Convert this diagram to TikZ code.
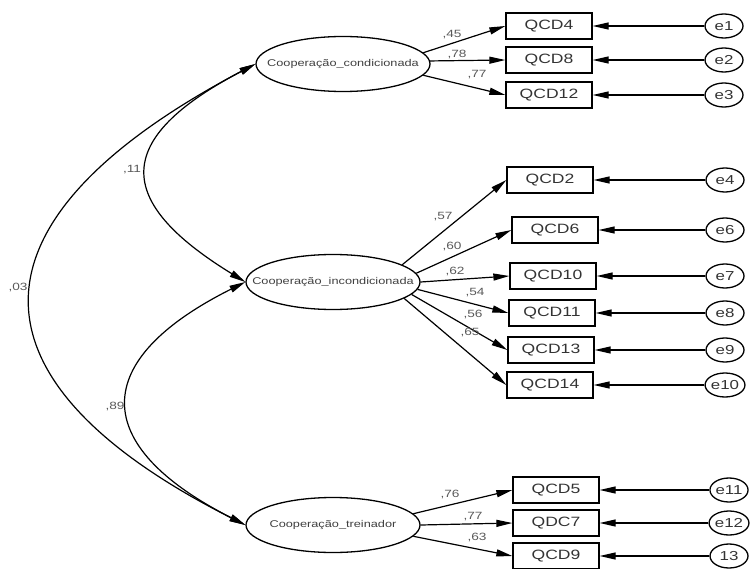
\documentclass[tikz,border=0pt]{standalone}
\usepackage{fontspec}
\setmainfont{Liberation Sans}[FakeStretch=1.3]
\usepackage{tikz}
\usetikzlibrary{shapes.geometric,arrows.meta}

\newcommand{\lvname}[1]{\makebox[0pt]{#1}}

\begin{document}
\begin{tikzpicture}[
    x=1pt, y=-1pt,
    latent/.style={ellipse, draw, line width=1.3pt, minimum width=174pt, minimum height=55pt, inner sep=0pt, text=black!75, font=\fontsize{9.8}{10}\selectfont},
    item/.style={rectangle, draw, line width=1.3pt, minimum width=86pt, minimum height=26pt, inner sep=0pt, text=black!80, font=\fontsize{13.5}{14}\selectfont},
    err/.style={ellipse, draw, line width=1.3pt, minimum width=38pt, minimum height=24pt, inner sep=0pt, text=black!80, font=\fontsize{13}{14}\selectfont},
    weight/.style={inner sep=0pt, text=black!65, font=\fontsize{10.5}{11}\selectfont},
    arrow/.style={-{Triangle[length=16pt,width=7pt]}, line width=1.2pt},
    cov/.style={{Triangle[length=16pt,width=7pt]}-{Triangle[length=16pt,width=7pt]}, line width=1.2pt}
]
    \useasboundingbox (0,0) rectangle (751,569);

    % factors
    \node[latent] (condic) at (343,64) {\lvname{Cooperação\_condicionada}};
    \node[latent] (incond) at (333,282) {\lvname{Cooperação\_incondicionada}};
    \node[latent] (treina) at (333,525) {\lvname{Cooperação\_treinador}};

    % items
    \node[item] (qcd4) at (549,26) {QCD4};
    \node[item] (qcd8) at (549,60) {QCD8};
    \node[item] (qcd12) at (549,95) {QCD12};
    \node[item] (qcd2) at (550,180) {QCD2};
    \node[item] (qcd6) at (555,230) {QCD6};
    \node[item] (qcd10) at (553,276) {QCD10};
    \node[item] (qcd11) at (552,313) {QCD11};
    \node[item] (qcd13) at (551,350) {QCD13};
    \node[item] (qcd14) at (550,385) {QCD14};
    \node[item] (qcd5) at (556,490) {QCD5};
    \node[item] (qdc7) at (556,523) {QDC7};
    \node[item] (qcd9) at (556,556) {QCD9};

    % errors
    \node[err] (e1) at (724,26) {e1};
    \node[err] (e2) at (724,60) {e2};
    \node[err] (e3) at (724,95) {e3};
    \node[err] (e4) at (725,180) {e4};
    \node[err] (e6) at (725,230) {e6};
    \node[err] (e7) at (725,276) {e7};
    \node[err] (e8) at (725,313) {e8};
    \node[err] (e9) at (725,350) {e9};
    \node[err] (e10) at (725,385) {e10};
    \node[err] (e11) at (729,490) {e11};
    \node[err] (e12) at (729,523) {e12};
    \node[err] (e13) at (729,556) {13};

    % loadings
    \draw[arrow] (condic.8) -- (qcd4.west);
    \draw[arrow] (condic.2) -- (qcd8.west);
    \draw[arrow] (condic.-8) -- (qcd12.west);
    \draw[arrow] (incond.14) -- (qcd2.west);
    \draw[arrow] (incond.6) -- (qcd6.west);
    \draw[arrow] (incond.0) -- (qcd10.west);
    \draw[arrow] (incond.-5) -- (qcd11.west);
    \draw[arrow] (incond.-9) -- (qcd13.west);
    \draw[arrow] (incond.-13) -- (qcd14.west);
    \draw[arrow] (treina.8) -- (qcd5.west);
    \draw[arrow] (treina.0) -- (qdc7.west);
    \draw[arrow] (treina.-8) -- (qcd9.west);

    \draw[arrow] (e1) -- (qcd4);
    \draw[arrow] (e2) -- (qcd8);
    \draw[arrow] (e3) -- (qcd12);
    \draw[arrow] (e4) -- (qcd2);
    \draw[arrow] (e6) -- (qcd6);
    \draw[arrow] (e7) -- (qcd10);
    \draw[arrow] (e8) -- (qcd11);
    \draw[arrow] (e9) -- (qcd13);
    \draw[arrow] (e10) -- (qcd14);
    \draw[arrow] (e11) -- (qcd5);
    \draw[arrow] (e12) -- (qdc7);
    \draw[arrow] (e13) -- (qcd9);

    \node[weight] (w45) at (452,35) {,45};
    \node[weight] (w78) at (457,55) {,78};
    \node[weight] (w77a) at (477,75) {,77};
    \node[weight] (w57) at (443,217) {,57};
    \node[weight] (w60) at (452,247) {,60};
    \node[weight] (w62) at (455,272) {,62};
    \node[weight] (w54) at (475,293) {,54};
    \node[weight] (w56) at (473,315) {,56};
    \node[weight] (w65) at (470,333) {,65};
    \node[weight] (w76) at (450,495) {,76};
    \node[weight] (w77b) at (473,517) {,77};
    \node[weight] (w63) at (477,537) {,63};

    % correlations
    \draw[cov] (condic.west) .. controls +(-143,75) and +(-132,-81) .. (incond.west);
    \draw[cov] (condic.west) .. controls +(-296,156) and +(-287,-145) .. (treina.west);
    \draw[cov] (incond.west) .. controls +(-156,78) and +(-157,-80) .. (treina.west);

    \node[weight] (r11) at (132,170) {,11};
    \node[weight] (r03) at (18,288) {,03};
    \node[weight] (r89) at (115,407) {,89};
\end{tikzpicture}
\end{document}
